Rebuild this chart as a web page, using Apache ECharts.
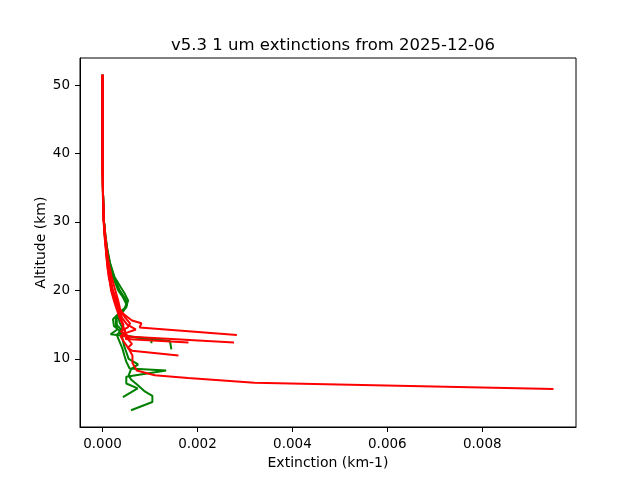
<!DOCTYPE html>
<html>
<head>
<meta charset="utf-8">
<script src="https://cdn.jsdelivr.net/npm/echarts@6/dist/echarts.min.js"></script>
<style>
  html, body { margin: 0; padding: 0; background: #fff; }
  #chart { width: 640px; height: 480px; }
</style>
</head>
<body>
<div id="chart"></div>
<script>
// profiles: [extinction km-1, altitude km]
const green1 = [[0,51.5],[0,42],[0.00001,34],[0.00003,30],[0.00006,28],[0.0001,26],[0.00015,24],[0.00024,22],[0.00036,20],[0.00046,19],[0.00052,18.2],[0.0005,17.5],[0.00038,16.8],[0.00028,16],[0.00028,15],[0.00031,14.3],[0.00017,13.6],[0.00142,12.6],[0.00145,11.4]];
const green2 = [[0,51.5],[0,42],[0.00001,34],[0.00002,31],[0.00005,28],[0.00009,26],[0.00014,24],[0.00022,22],[0.00033,20],[0.00043,19],[0.0005,18],[0.00046,17.2],[0.00032,16.5],[0.00022,15.8],[0.00024,14.8],[0.00038,14],[0.00042,13.4],[0.00103,12.8],[0.00103,12.3]];
const green3 = [[0,51.5],[0,42],[0.00001,34],[0.00003,30],[0.00006,28],[0.0001,26],[0.00016,24],[0.00025,22],[0.00038,20.5],[0.00047,19.5],[0.00054,18.5],[0.00048,17.5],[0.00036,16.8],[0.0003,15.8],[0.0003,15],[0.0004,14.2],[0.0003,13.5],[0.00036,12.5],[0.00042,11.5],[0.00046,10.5],[0.0005,9.6],[0.00057,8.6],[0.00134,8.3],[0.0005,7.4],[0.0005,6.4],[0.00074,5.7],[0.00043,4.4]];
const green4 = [[0,51.5],[0,42],[0.00001,34],[0.00002,31],[0.00005,28],[0.00009,26],[0.00014,24],[0.00022,22],[0.00035,20],[0.00045,19],[0.00052,18],[0.00044,17],[0.00033,16.2],[0.00036,15.3],[0.00042,14.5],[0.00035,14],[0.00042,13],[0.00045,12],[0.0005,11],[0.00055,10],[0.00075,9.2],[0.0006,8.5],[0.00055,7.6],[0.0006,7],[0.00072,6.3],[0.00088,5.3],[0.00105,4.6],[0.00105,3.7],[0.0006,2.5]];

const red1 = [[0,51.5],[0,45],[0,40],[0.00001,34],[0.00003,30],[0.00004,28],[0.00007,26],[0.0001,24],[0.00013,22],[0.00019,20],[0.00026,18.5],[0.00033,17.5],[0.00045,16.5],[0.00062,15.6],[0.00082,15.2],[0.00078,14.6],[0.00283,13.5]];
const red2 = [[0,51.5],[0,45],[0,38],[0.00001,33],[0.00002,30],[0.00005,28],[0.00008,26],[0.00011,24],[0.00016,22],[0.00022,20],[0.0003,18.5],[0.00036,17.2],[0.00041,16],[0.00052,15],[0.0007,14.3],[0.0005,13.8],[0.00042,13.3],[0.00277,12.4]];
const red3 = [[0,51.5],[0,45],[0,38],[0.00001,33],[0.00003,30],[0.00006,28],[0.00009,26],[0.00013,24],[0.00019,22],[0.00027,20],[0.00033,18.5],[0.00038,17],[0.00048,16],[0.00058,15.2],[0.00053,14.6],[0.00038,14],[0.00058,13.2],[0.00048,12.9],[0.00181,12.4]];
const red4 = [[0,51.5],[0,45],[0,38],[0.00001,34],[0.00002,31],[0.00004,29],[0.00006,27],[0.00009,25],[0.00012,23],[0.00016,21.5],[0.00021,20],[0.00028,18.5],[0.00034,17],[0.00038,16],[0.00044,15],[0.00041,14],[0.00052,13],[0.00062,12.2],[0.00053,11.6],[0.00062,11.2],[0.0016,10.5]];
const red5 = [[0,51.5],[0,45],[0,38],[0.00001,34],[0.00002,31],[0.00004,29],[0.00006,27],[0.00008,25],[0.00011,23],[0.00015,21.5],[0.00018,20],[0.00024,18.5],[0.00031,17],[0.00036,16],[0.00042,15],[0.00048,14],[0.00038,13.3],[0.00045,12.5],[0.00055,11.5],[0.00063,10.5],[0.00063,9.4],[0.00072,8.3],[0.0011,7.6],[0.0018,7.2],[0.0032,6.5],[0.0095,5.6]];

const xTicks = [0, 0.002, 0.004, 0.006, 0.008];
const yTicks = [10, 20, 30, 40, 50];

const FONT = "DejaVu Sans";
const greens = [green1, green2, green3, green4];
const reds = [red1, red2, red3, red4, red5];

// 绿色先画,红色压在上面
const series = [];
greens.forEach(d => series.push({ type: "line", data: d, color: "#008000" }));
reds.forEach(d => series.push({ type: "line", data: d, color: "#ff0000" }));
series.forEach(s => {
  s.showSymbol = false;
  s.symbol = "none";
  s.lineStyle = { width: 2, color: s.color };
  s.silent = true;
});

const axisCommon = {
  axisLine: { show: true, onZero: false, lineStyle: { color: "#000", width: 1 } },
  axisTick: { show: true, inside: false, length: 5, lineStyle: { color: "#000" } },
  splitLine: { show: false },
  nameMoveOverlap: false,
  nameTextStyle: { fontFamily: FONT, fontSize: 14, color: "#000" },
};

const chart = echarts.init(document.getElementById("chart"), null, { renderer: "canvas" });
chart.setOption({
  animation: false,
  backgroundColor: "#fff",
  title: {
    text: "v5.3 1 um extinctions from 2025-12-06",
    left: 328, top: 32, textAlign: "center",
    textStyle: { fontFamily: FONT, fontSize: 16.5, fontWeight: "normal", color: "#000" },
  },
  grid: { left: 80, top: 58, width: 496, height: 369, show: true, borderColor: "#000", borderWidth: 1 },
  xAxis: Object.assign({}, axisCommon, {
    type: "value", min: -0.000475, max: 0.009975,
    name: "Extinction (km-1)", nameLocation: "middle", nameGap: 29,
    axisTick: Object.assign({}, axisCommon.axisTick, { customValues: xTicks }),
    axisLabel: { customValues: xTicks, margin: 10, fontFamily: FONT, fontSize: 13.5, color: "#000",
      formatter: v => v.toFixed(3) },
  }),
  yAxis: Object.assign({}, axisCommon, {
    type: "value", min: 0.05, max: 53.95,
    name: "Altitude (km)", nameLocation: "middle", nameGap: 32,
    axisTick: Object.assign({}, axisCommon.axisTick, { customValues: yTicks }),
    axisLabel: { customValues: yTicks, margin: 10, fontFamily: FONT, fontSize: 13.5, color: "#000" },
  }),
  series: series,
});
</script>
</body>
</html>
